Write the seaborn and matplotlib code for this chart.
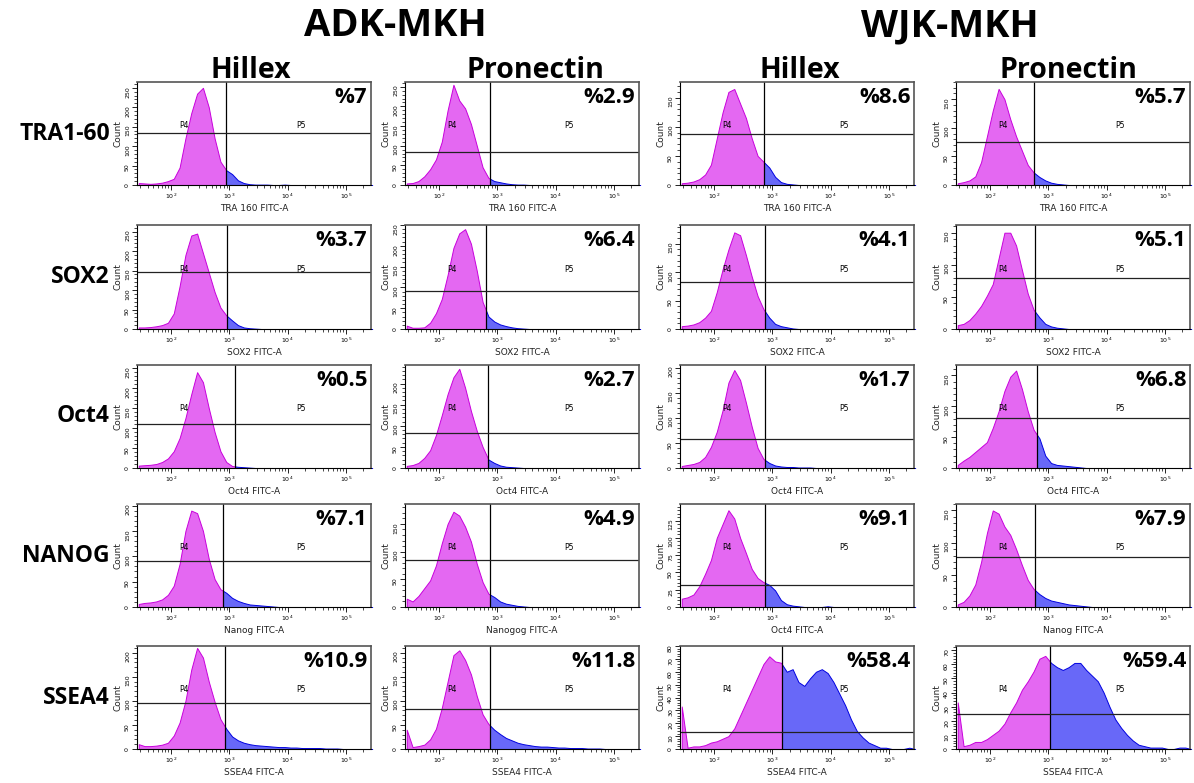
import numpy as np
import pandas as pd
import seaborn as sns
import matplotlib.pyplot as plt
import matplotlib.ticker as mticker
from matplotlib.patches import Rectangle

# log10 fluorescence grid, 0.1 decade bins (1.4 ... 5.5)
bin_edges = [round(k / 10, 2) for k in range(14, 56)]
bin_centers = [(a + b) / 2 for a, b in zip(bin_edges[:-1], bin_edges[1:])]
n_bins = len(bin_centers)

groups = ["ADK-MKH", "WJK-MKH"]
coatings = ["Hillex", "Pronectin", "Hillex", "Pronectin"]
markers = ["TRA1-60", "SOX2", "Oct4", "NANOG", "SSEA4"]

x_labels = [
    ["TRA 160 FITC-A"] * 4,
    ["SOX2 FITC-A"] * 4,
    ["Oct4 FITC-A"] * 4,
    ["Nanog FITC-A", "Nanogog FITC-A", "Oct4 FITC-A", "Nanog FITC-A"],
    ["SSEA4 FITC-A"] * 4,
]
percent_labels = [
    ["%7", "%2.9", "%8.6", "%5.7"],
    ["%3.7", "%6.4", "%4.1", "%5.1"],
    ["%0.5", "%2.7", "%1.7", "%6.8"],
    ["%7.1", "%4.9", "%9.1", "%7.9"],
    ["%10.9", "%11.8", "%58.4", "%59.4"],
]
# P4/P5 gate position (log10 FITC) and horizontal gate line (count)
gates = [
    [2.94, 2.88, 2.86, 2.75],
    [2.97, 2.81, 2.88, 2.77],
    [3.10, 2.84, 2.87, 2.81],
    [2.89, 2.87, 2.87, 2.77],
    [2.92, 2.88, 3.16, 3.03],
]
gate_hlines = [
    [135, 83, 88, 76],
    [146, 92, 82, 79],
    [110, 84, 58, 81],
    [91, 84, 31.5, 78],
    [96, 84, 13.5, 25],
]
y_max = [
    [265, 262, 177, 180],
    [267, 250, 183, 162],
    [258, 244, 205, 167],
    [203, 186, 149, 160],
    [214, 214, 80, 73],
]
y_step = [
    [50, 50, 50, 50],
    [50, 50, 50, 50],
    [50, 50, 50, 50],
    [50, 50, 25, 50],
    [50, 50, 10, 10],
]

# counts per bin, starting at the 1.45 bin centre
tra_adk_hillex = [5, 4, 3, 4, 6, 10, 16, 45, 120, 185, 235, 250, 200, 120, 60, 38, 28, 12, 5, 2, 1, 1, 1, 0, 0, 1]
tra_adk_pron = [4, 5, 10, 22, 40, 65, 110, 190, 255, 215, 195, 155, 100, 45, 18, 10, 7, 4, 2, 1, 1]
tra_wjk_hillex = [3, 4, 6, 10, 18, 35, 80, 125, 160, 165, 140, 115, 80, 50, 40, 30, 14, 5, 2, 1]
tra_wjk_pron = [3, 5, 8, 15, 40, 85, 130, 168, 150, 115, 85, 60, 35, 22, 14, 8, 4, 2, 1]

sox_adk_hillex = [4, 4, 5, 7, 10, 16, 40, 110, 190, 240, 245, 195, 145, 95, 55, 35, 22, 10, 4, 2, 1]
sox_adk_pron = [8, 3, 3, 4, 15, 38, 72, 130, 195, 230, 240, 205, 140, 65, 30, 18, 11, 7, 4, 2, 1]
sox_wjk_hillex = [5, 6, 8, 12, 20, 32, 65, 105, 140, 170, 165, 130, 92, 58, 35, 20, 9, 5, 3, 1]
sox_wjk_pron = [6, 8, 14, 24, 36, 52, 70, 110, 150, 150, 130, 92, 55, 30, 18, 8, 4, 2, 1]

oct_adk_hillex = [6, 7, 8, 10, 15, 24, 42, 75, 125, 185, 240, 215, 150, 90, 42, 15, 5, 3, 2, 1]
oct_adk_pron = [5, 7, 12, 24, 42, 78, 125, 175, 215, 235, 190, 135, 88, 50, 20, 12, 6, 3, 2, 1]
oct_wjk_hillex = [4, 6, 8, 12, 22, 42, 72, 115, 170, 195, 175, 130, 82, 40, 18, 10, 5, 3, 2, 2, 1, 1, 1]
oct_wjk_pron = [5, 12, 18, 26, 34, 42, 65, 92, 125, 148, 158, 128, 92, 62, 48, 20, 8, 5, 4, 3, 2, 1]

nanog_adk_hillex = [6, 8, 9, 11, 15, 24, 42, 85, 150, 190, 185, 150, 95, 55, 35, 28, 18, 12, 8, 5, 4, 3, 2, 1]
nanog_adk_pron = [15, 10, 20, 34, 48, 75, 115, 150, 172, 165, 145, 118, 78, 45, 24, 18, 10, 6, 4, 2, 1]
nanog_wjk_hillex = [12, 14, 18, 30, 48, 68, 100, 120, 140, 128, 100, 78, 55, 42, 36, 32, 24, 10, 4, 2, 1, 0, 0, 0, 0, 1]
nanog_wjk_pron = [4, 8, 18, 35, 70, 115, 150, 145, 125, 112, 90, 65, 42, 28, 20, 14, 10, 8, 6, 4, 3, 2, 1]

ssea_adk_hillex = [10, 6, 6, 7, 9, 13, 28, 55, 100, 165, 210, 190, 140, 98, 62, 42, 26, 18, 13, 10, 8, 7, 6,
                   5, 4, 4, 3, 3, 2, 2, 2, 2, 1, 1, 1]
ssea_adk_pron = [40, 4, 6, 9, 20, 42, 85, 140, 195, 205, 185, 155, 110, 72, 52, 40, 31, 23, 18, 13, 10, 8, 6,
                 5, 5, 4, 3, 3, 2, 2, 2, 1, 1, 1]
ssea_wjk_hillex = [33, 1, 2, 2, 3, 5, 6, 8, 10, 16, 26, 36, 46, 56, 66, 72, 68, 67, 60, 62, 52, 49, 55, 60,
                   62, 59, 52, 43, 34, 23, 14, 9, 5, 3, 1, 1, 0, 0, 0, 1]
ssea_wjk_pron = [33, 2, 3, 5, 5, 7, 10, 13, 18, 26, 33, 42, 48, 55, 64, 66, 61, 58, 56, 58, 61, 61, 56, 52,
                 48, 40, 30, 21, 15, 10, 6, 3, 2, 1, 1, 1, 0, 0, 1, 1]

counts = [
    [tra_adk_hillex, tra_adk_pron, tra_wjk_hillex, tra_wjk_pron],
    [sox_adk_hillex, sox_adk_pron, sox_wjk_hillex, sox_wjk_pron],
    [oct_adk_hillex, oct_adk_pron, oct_wjk_hillex, oct_wjk_pron],
    [nanog_adk_hillex, nanog_adk_pron, nanog_wjk_hillex, nanog_wjk_pron],
    [ssea_adk_hillex, ssea_adk_pron, ssea_wjk_hillex, ssea_wjk_pron],
]


def pad(vals):
    return list(vals) + [0] * (n_bins - len(vals))


sns.set_theme(style="ticks")
plt.rcParams["font.family"] = ["Open Sans", "DejaVu Sans"]
plt.rcParams["text.color"] = "black"
plt.rcParams["axes.labelcolor"] = "#222222"
plt.rcParams["xtick.color"] = "black"
plt.rcParams["ytick.color"] = "black"

MAGENTA, MAGENTA_EDGE = "#e468f2", "#c800dc"
BLUE, BLUE_EDGE = "#6868f8", "#0000e0"

W, H = 1194, 783
fig = plt.figure(figsize=(W / 100, H / 100), dpi=100)

col_left = [137, 405, 680, 956]
col_width = 234
row_span = [(82, 185), (225, 329), (365, 468), (504, 607), (646, 749)]
xmin, xmax = 1.42, 5.43

minor_x = [np.log10(k) + d for d in range(1, 6) for k in range(2, 10)]
minor_x = [v for v in minor_x if xmin < v < xmax]

for r, marker in enumerate(markers):
    top, bot = row_span[r]
    for c in range(4):
        ax = fig.add_axes([col_left[c] / W, 1 - bot / H, col_width / W, (bot - top) / H])
        df = pd.DataFrame({"fitc": bin_centers, "count": pad(counts[r][c])})
        g = gates[r][c]
        # negative (P4) part magenta, positive (P5) part blue
        for lo, hi, face, edge in [(0.0, g, MAGENTA, MAGENTA_EDGE), (g, 7.0, BLUE, BLUE_EDGE)]:
            sns.histplot(data=df, x="fitc", weights="count", bins=bin_edges, element="poly",
                         fill=True, facecolor=face, edgecolor=edge, linewidth=0.7, ax=ax)
            ax.collections[-1].set_clip_path(Rectangle((lo, -10), hi - lo, 1e4, transform=ax.transData))

        ax.set_xlim(xmin, xmax)
        ax.set_ylim(0, y_max[r][c])
        ax.axvline(g, color="black", lw=0.9)
        ax.axhline(gate_hlines[r][c], color="#222222", lw=0.9)

        ax.text(0.2, 0.53, "P4", transform=ax.transAxes, fontsize=5.5, ha="center", va="bottom",
                family="DejaVu Sans")
        ax.text(0.7, 0.53, "P5", transform=ax.transAxes, fontsize=5.5, ha="center", va="bottom",
                family="DejaVu Sans")
        ax.text(0.985, 0.95, percent_labels[r][c], transform=ax.transAxes, ha="right", va="top",
                fontsize=16, fontweight="bold")

        ax.set_xticks([2, 3, 4, 5])
        ax.set_xticklabels([r"10$^{%d}$" % d for d in range(2, 6)])
        ax.set_xticks(minor_x, minor=True)
        ax.yaxis.set_major_locator(mticker.MultipleLocator(y_step[r][c]))
        ax.yaxis.set_minor_locator(mticker.AutoMinorLocator(5))
        ax.tick_params(axis="both", which="major", length=3.5, width=0.6, labelsize=4.5, pad=1.5)
        ax.tick_params(axis="both", which="minor", length=2, width=0.5)
        ax.tick_params(axis="y", labelrotation=90)
        for lab in ax.get_xticklabels() + ax.get_yticklabels():
            lab.set_family("DejaVu Sans")
        ax.set_xlabel(x_labels[r][c], fontsize=6.5, labelpad=2, family="DejaVu Sans")
        ax.set_ylabel("Count", fontsize=6.5, labelpad=2, family="DejaVu Sans")

        for side in ["left", "bottom"]:
            ax.spines[side].set_color("black")
            ax.spines[side].set_linewidth(0.8)
        for side in ["top", "right"]:
            ax.spines[side].set_visible(True)
            ax.spines[side].set_color("#555555")
            ax.spines[side].set_linewidth(1.2)

    fig.text(110 / W, 1 - ((top + bot) / 2) / H, marker, ha="right", va="center",
             fontsize=16.5, fontweight="bold")

# group and coating headers
for x_px, name in zip([395, 950], groups):
    fig.text(x_px / W, 1 - 26 / H, name, ha="center", va="center", fontsize=27.5, fontweight="bold")
for x_px, name in zip([251, 535, 800, 1068], coatings):
    fig.text(x_px / W, 1 - 70 / H, name, ha="center", va="center", fontsize=20.5, fontweight="bold")

fig.savefig("out.png", dpi=100)
